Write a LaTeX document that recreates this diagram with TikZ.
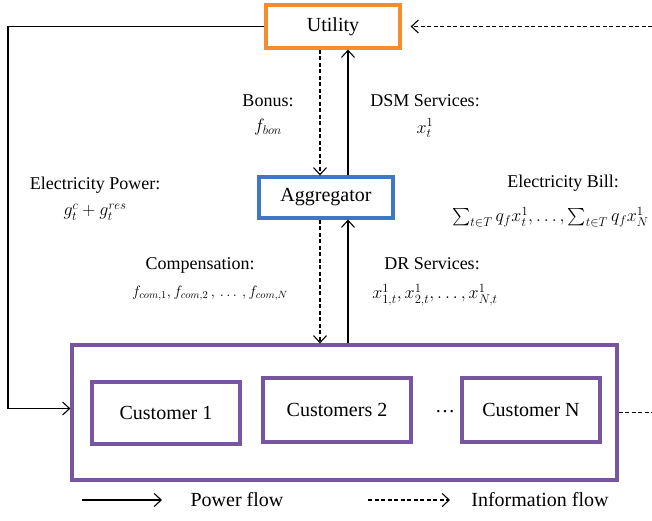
\RequirePackage{fix-cm}
\documentclass[tikz,border=0pt]{standalone}
\usepackage{amsmath}
\usepackage{fontspec}
\setmainfont{Liberation Serif}
\newfontfamily\tnr{Liberation Serif}
\usetikzlibrary{arrows.meta}
\definecolor{uorange}{RGB}{245,140,45}
\definecolor{ablue}{RGB}{60,120,195}
\definecolor{cpurple}{RGB}{120,85,160}
\tikzset{
  x=1pt, y=-1pt,
  bigfont/.style={font=\tnr\fontsize{20}{24}\selectfont},
  lblfont/.style={font=\tnr\fontsize{18}{21}\selectfont},
  boxnode/.style={draw, line width=3.2pt, inner sep=0pt, bigfont},
  lbl/.style={inner sep=0pt, lblfont},
  power/.style={line width=1.1pt, -{Straight Barb[length=7pt, width=13pt, line width=1.1pt]}},
  info/.style={power, dash pattern=on 4pt off 2.5pt},
  infoline/.style={line width=1.1pt, dash pattern=on 4pt off 2.5pt},
}
\begin{document}
\begin{tikzpicture}
\useasboundingbox (0,0) rectangle (652,520);
% boxes
\node[boxnode, draw=uorange, minimum width=134pt, minimum height=43pt] (util) at (333,26.5) {Utility};
\node[boxnode, draw=ablue, minimum width=134pt, minimum height=41pt] (agg) at (326,197.5) {Aggregator};
\node[draw=cpurple, line width=3.2pt, minimum width=545pt, minimum height=135pt, inner sep=0pt] (outer) at (344.5,412.5) {};
\node[boxnode, draw=cpurple, minimum width=148pt, minimum height=62pt] (c1) at (166,413) {Customer 1};
\node[boxnode, draw=cpurple, minimum width=148pt, minimum height=64pt] (c2) at (337,410) {Customers 2};
\node[bigfont, inner sep=0pt] (dots) at (445,412) {\dots};
\node[boxnode, draw=cpurple, minimum width=138pt, minimum height=64pt] (cn) at (531,410) {Customer N};
% helper coordinates
\coordinate (bx) at (320,0);
\coordinate (sx) at (348,0);
\coordinate (lc) at (8,0);
\coordinate (re) at (652,0);
% vertical arrows
\draw[info] (util.south -| bx) -- (agg.north -| bx);
\draw[power] (agg.north -| sx) -- (util.south -| sx);
\draw[info] (agg.south -| bx) -- (outer.north -| bx);
\draw[power] (outer.north -| sx) -- (agg.south -| sx);
% power line from utility to customers
\draw[power] (util.west) -- (util.west -| lc) |- ([yshift=4pt]outer.west);
% information from the right
\draw[info, shorten >=9pt] (util.east -| re) -- (util.east);
\draw[infoline] (outer.east) -- (outer.east -| re);
% labels
\node[lbl] (bonl) at (268,101) {Bonus:};
\node[lbl] (bonf) at (268,127) {$f_{bon}$};
\node[lbl] (dsml) at (425,101) {DSM Services:};
\node[lbl] (dsmf) at (425,128) {$x_t^1$};
\node[lbl] (epl) at (95,185) {Electricity Power:};
\node[lbl] (epf) at (95,212) {$g_t^c + g_t^{res}$};
\node[lbl] (ebl) at (563,183) {Electricity Bill:};
\node[lbl, anchor=west] (ebf) at (452,217) {$\sum_{t\in T} q_f x_t^1, \dots, \sum_{t\in T} q_f x_N^1$};
\node[lbl] (cml) at (200,265) {Compensation:};
\node[lbl] (cmf) at (210,293) {\fontsize{15}{18}\selectfont$f_{com,1}, f_{com,2}\,, \,\dots\,, f_{com,N}$};
\node[lbl] (drl) at (432,264) {DR Services:};
\node[lbl] (drf) at (435,295) {$x_{1,t}^1, x_{2,t}^1, \dots, x_{N,t}^1$};
% legend
\coordinate (p1) at (82,500);
\coordinate (p2) at (162,500);
\coordinate (i1) at (368,500);
\coordinate (i2) at (450,500);
\draw[power] (p1) -- (p2);
\node[bigfont, inner sep=0pt] (pfl) at (237,500) {Power flow};
\draw[info] (i1) -- (i2);
\node[bigfont, inner sep=0pt] (ifl) at (540,500) {Information flow};
\end{tikzpicture}
\end{document}
